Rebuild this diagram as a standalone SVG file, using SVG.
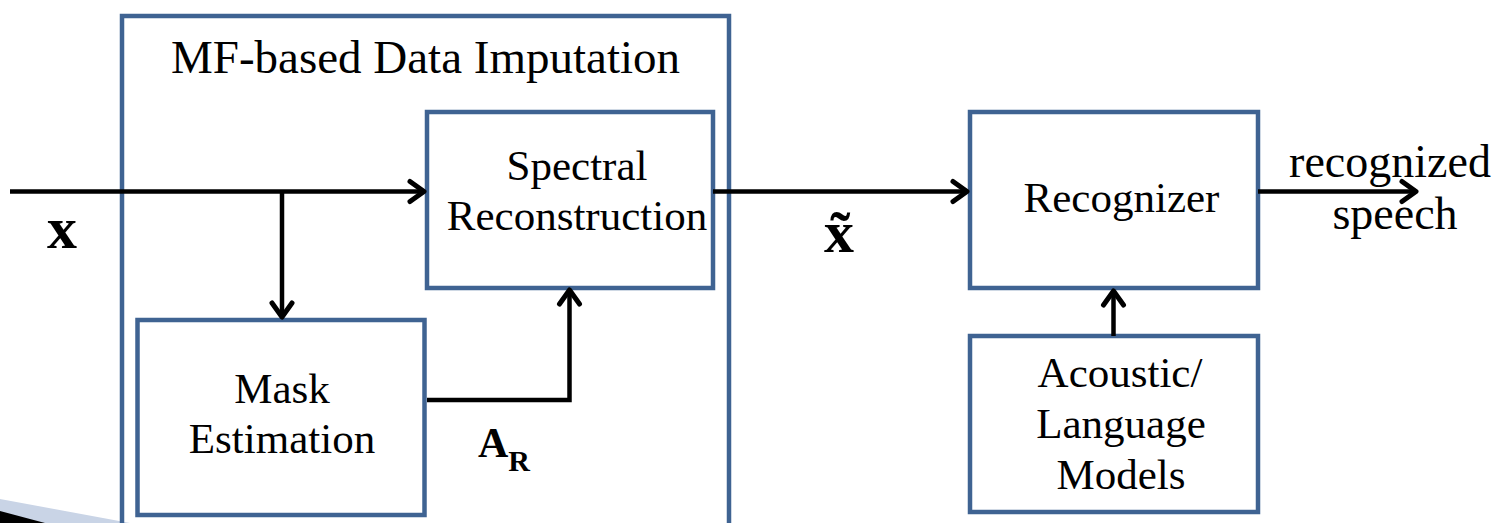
<svg xmlns="http://www.w3.org/2000/svg" width="1502" height="523" viewBox="0 0 1502 523">
<style>
.box{fill:none;stroke:#3F6392;stroke-width:4.5}
.ln{fill:none;stroke:#000;stroke-width:4.5}
.t{font-family:"Liberation Serif","Times New Roman",serif;fill:#000;text-anchor:middle}
.b{font-weight:bold}
</style>
<defs>
<marker id="ah" markerUnits="userSpaceOnUse" markerWidth="30" markerHeight="30" viewBox="-20 -15 30 30" refX="0" refY="0" orient="auto">
<path d="M-14,-10 L0,0 L-14,10" fill="none" stroke="#000" stroke-width="5" stroke-linecap="round" stroke-linejoin="round"/>
</marker>
</defs>
<rect width="1502" height="523" fill="#fff"/>
<g id="decor">
<polygon points="0,499 130,523 0,523" fill="#C9D4E6"/>
<polygon points="0,511 45,523 0,523" fill="#000"/>
</g>
<g id="mf-imputation">
<rect class="box" x="122" y="16" width="607" height="520"/>
<text class="t" x="425.5" y="73" font-size="47">MF-based Data Imputation</text>
</g>
<g id="spectral">
<rect class="box" x="427" y="112" width="286" height="176"/>
<text class="t" x="577" y="180" font-size="43">Spectral</text>
<text class="t" x="577" y="230" font-size="43">Reconstruction</text>
</g>
<g id="mask">
<rect class="box" x="137.5" y="320" width="287" height="195"/>
<text class="t" x="282" y="403" font-size="43">Mask</text>
<text class="t" x="282" y="453" font-size="43">Estimation</text>
</g>
<g id="recognizer">
<rect class="box" x="970" y="112" width="288" height="176"/>
<text class="t" x="1121.5" y="212" font-size="43">Recognizer</text>
</g>
<g id="models">
<rect class="box" x="970" y="336" width="288" height="176"/>
<text class="t" x="1120" y="387" font-size="43">Acoustic/</text>
<text class="t" x="1121" y="438" font-size="43">Language</text>
<text class="t" x="1121" y="489" font-size="43">Models</text>
</g>
<g id="connectors">
<line class="ln" x1="10" y1="191.5" x2="424" y2="191.5" marker-end="url(#ah)"/>
<polyline class="ln" points="282,191.5 282,317" marker-end="url(#ah)"/>
<polyline class="ln" points="427,400 569.5,400 569.5,290" marker-end="url(#ah)"/>
<line class="ln" x1="713" y1="191.5" x2="967" y2="191.5" marker-end="url(#ah)"/>
<line class="ln" x1="1113.5" y1="336" x2="1113.5" y2="291" marker-end="url(#ah)"/>
<line class="ln" x1="1258" y1="191.5" x2="1416" y2="191.5" marker-end="url(#ah)"/>
</g>
<g id="labels">
<text class="t b" x="62" y="248" font-size="60">x</text>
<text class="t b" x="839" y="252" font-size="60">x̃</text>
<text class="t b" x="504" y="457" font-size="42">A<tspan font-size="30" dy="14">R</tspan></text>
<text class="t" x="1390" y="177" font-size="46">recognized</text>
<text class="t" x="1395" y="229" font-size="46">speech</text>
</g>
</svg>
